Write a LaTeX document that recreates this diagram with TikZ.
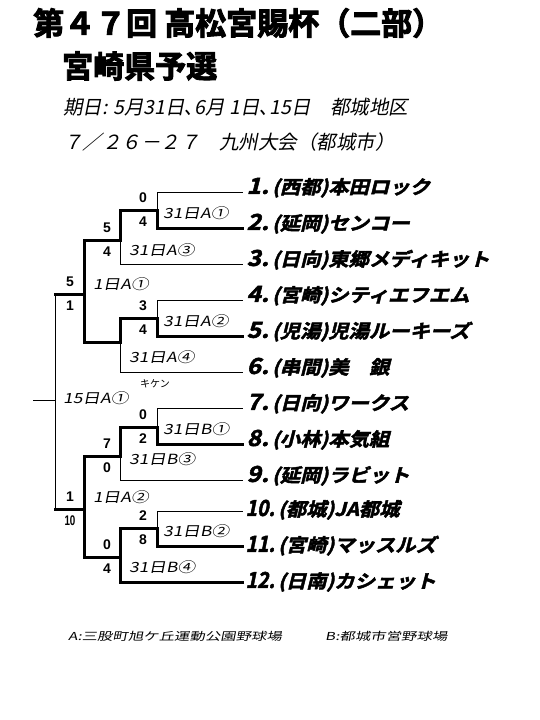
\documentclass[tikz,border=0pt]{standalone}
\usepackage{fontspec}
\usetikzlibrary{positioning}
\newfontfamily\jptitle[FakeBold=3]{Noto Sans CJK JP Bold}
\newfontfamily\jpteam[FakeSlant=0.25,FakeBold=2.5,FakeStretch=1.1]{Noto Sans CJK JP Bold}
\newfontfamily\jpdate[FakeSlant=0.2]{Noto Sans CJK JP}
\newfontfamily\jpmatch[FakeSlant=0.2,FakeStretch=1.25]{Noto Sans CJK JP}
\newfontfamily\jpfoot[FakeSlant=0.2,FakeStretch=1.4]{Noto Sans CJK JP}
\newfontfamily\jpplain{Noto Sans CJK JP}
\newfontfamily\scorefont{Liberation Sans}
\newcommand\condten{\scalebox{0.7}[1]{10}}

\begin{document}
\begin{tikzpicture}[x=1pt,y=-1pt,
    lose/.style={line width=1pt,line cap=rect},
    win/.style={line width=3pt,line cap=rect},
    score/.style={inner sep=0pt,font=\scorefont\bfseries\fontsize{14}{14}\selectfont},
    match/.style={anchor=west,inner sep=0pt,font=\jpmatch\fontsize{14}{14}\selectfont},
    teamno/.style={anchor=east,inner sep=0pt,font=\jpteam\fontsize{22}{22}\selectfont},
    teamname/.style={inner sep=0pt,font=\jpteam\fontsize{18.5}{18.5}\selectfont}]
    \path[use as bounding box] (0,0) rectangle (540,720);
    % heading
    \node[anchor=west,inner sep=0pt,font=\jptitle\fontsize{31}{31}\selectfont] (title) at (33,23) {第４７回 高松宮賜杯（二部）};
    \node[anchor=west,inner sep=0pt,font=\jptitle\fontsize{31}{31}\selectfont] (subtitle) at (62,66) {宮崎県予選};
    \node[anchor=west,inner sep=0pt,font=\jpdate\fontsize{19.5}{19.5}\selectfont] (dates) at (63,107) {期日: 5月31日､6月 1日､15日　都城地区};
    \node[anchor=west,inner sep=0pt,font=\jpdate\fontsize{19.5}{19.5}\selectfont] (kyushu) at (63,142) {７／２６－２７　九州大会（都城市）};
    % teams
    \foreach \n/\y/\dy/\nx/\name in {1/192/6/269/{(西都)本田ロック},2/228/6/269/{(延岡)センコー},
        3/264/6/269/{(日向)東郷メディキット},4/300/6/269/{(宮崎)シティエフエム},
        5/336/6/269/{(児湯)児湯ルーキーズ},6/372/6/269/{(串間)美　銀},
        7/408/6/269/{(日向)ワークス},8/444/6/269/{(小林)本気組},9/480/6/269/{(延岡)ラビット},
        10/511/3/275/{(都城)JA都城},11/546/2/275/{(宮崎)マッスルズ},12/582/2/275/{(日南)カシェット}} {
      \coordinate (t\n) at (242,\y);
      \node[teamno] (no\n) at (\nx,\y-\dy) {\ifnum\n>9 \scalebox{0.8}[1]{\n.}\else\n.\fi};
      \node[teamname,base right=3pt of no\n] (tm\n) {\name};
    }
    % junctions
    \coordinate (m1) at (157,210);
    \coordinate (m2) at (157,318);
    \coordinate (m3) at (157,427);
    \coordinate (m4) at (157,528);
    \coordinate (s1) at (120,240);
    \coordinate (s2) at (120,342);
    \coordinate (s3) at (120,456);
    \coordinate (s4) at (120,557);
    \coordinate (f1) at (84,294);
    \coordinate (f2) at (84,509);
    \coordinate (fin) at (55,400);
    \coordinate (out) at (33,400);
    % top half
    \draw[lose] (t1) -| (m1);
    \draw[win] (t2) -| (m1) -- (m1 -| s1) -- (s1) -- (s1 -| f1);
    \draw[lose] (t3) -| (s1);
    \draw[lose] (t4) -| (m2);
    \draw[win] (t5) -| (m2) -- (m2 -| s2) -- (s2) -- (s2 -| f1);
    \draw[lose] (t6) -| (s2);
    \draw[win] (s1 -| f1) -- (s2 -| f1);
    \draw[win] (f1) -- (f1 -| fin);
    % bottom half
    \draw[lose] (t7) -| (m3);
    \draw[win] (t8) -| (m3) -- (m3 -| s3) -- (s3) -- (s3 -| f2);
    \draw[lose] (t9) -| (s3);
    \draw[lose] (t10) -| (m4);
    \draw[win] (t11) -| (m4) -- (m4 -| s4) -- (s4);
    \draw[win] (t12) -| (s4) -- (s4 -| f2);
    \draw[win] (s3 -| f2) -- (s4 -| f2);
    \draw[win] (f2) -- (f2 -| fin);
    % final
    \draw[lose] (f1 -| fin) -- (f2 -| fin);
    \draw[lose] (fin) -- (out);
    % scores
    \foreach \j/\x/\y/\up/\dn in {m1/143/210/0/4,m2/143/318/3/4,m3/143/427/0/2,m4/143/528/2/8,
        s1/107/240/5/4,s3/107/456/7/0,s4/107/557/0/4,f1/70/294/5/1,f2/70/509/1/\condten} {
      \node[score] (\j up) at (\x,\y-12) {\up};
      \node[score] (\j dn) at (\x,\y+12) {\dn};
    }
    % games
    \node[match] (g1) at (163,213) {31日A①};
    \node[match] (g2) at (163,321) {31日A②};
    \node[match] (g3) at (129,250) {31日A③};
    \node[match] (g4) at (129,357) {31日A④};
    \node[match] (g5) at (93,284) {1日A①};
    \node[match] (g6) at (163,429) {31日B①};
    \node[match] (g7) at (163,531) {31日B②};
    \node[match] (g8) at (129,459) {31日B③};
    \node[match] (g9) at (129,567) {31日B④};
    \node[match] (g10) at (93,497) {1日A②};
    \node[match] (g11) at (63,398) {15日A①};
    \node[inner sep=0pt,font=\jpplain\fontsize{10}{10}\selectfont] (forfeit) at (155,384) {キケン};
    % grounds
    \node[anchor=west,inner sep=0pt,font=\jpfoot\fontsize{11}{11}\selectfont] (groundA) at (68,636) {A:三股町旭ケ丘運動公園野球場};
    \node[anchor=west,inner sep=0pt,font=\jpfoot\fontsize{11}{11}\selectfont] (groundB) at (325,636) {B:都城市営野球場};
\end{tikzpicture}
\end{document}
